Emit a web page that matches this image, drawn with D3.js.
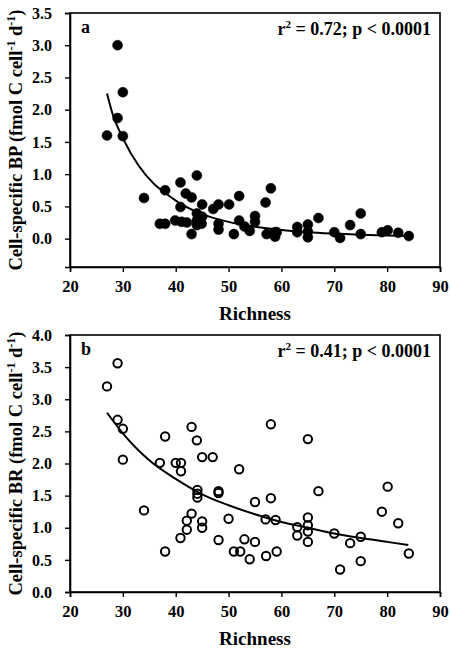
<!DOCTYPE html>
<html>
<head>
<meta charset="utf-8">
<script src="https://cdn.jsdelivr.net/npm/d3@7"></script>
<style>
  body { margin: 0; background: #fff; }
  svg { display: block; }
  text { font-family: "Liberation Serif", "Times New Roman", serif; font-weight: bold; fill: #000; }
</style>
</head>
<body>
<svg id="chart" width="450" height="648"></svg>
<script>
// ---- Data ----
const xTicks = [20, 30, 40, 50, 60, 70, 80, 90];
const bpTicks = [0.0, 0.5, 1.0, 1.5, 2.0, 2.5, 3.0, 3.5];
const brTicks = [0.0, 0.5, 1.0, 1.5, 2.0, 2.5, 3.0, 3.5, 4.0];

// Panel a: richness vs cell-specific BP (filled circles)
const richnessBP = [29, 30, 29, 27, 30, 34, 38, 37, 38, 39.9, 40.9, 41.9, 43, 40.9, 41.1, 42.1, 44, 43, 44, 44, 44.9, 44,
  45, 45, 47.1, 48.1, 48.1, 48.1, 50.1, 51, 52, 52, 53, 54, 55, 55, 57, 58, 57.2, 58.8, 58.8, 59.1,
  63, 63, 65, 65, 65, 67, 70, 71.1, 73, 75, 75, 79, 80.1, 82.1, 84.1];
const bp = [3.0, 2.27, 1.87, 1.60, 1.59, 0.63, 0.75, 0.23, 0.23, 0.28, 0.87, 0.70, 0.64, 0.49, 0.26, 0.25, 0.98, 0.07, 0.39, 0.28, 0.23, 0.21,
  0.53, 0.34, 0.46, 0.53, 0.23, 0.14, 0.53, 0.07, 0.66, 0.28, 0.19, 0.12, 0.35, 0.26, 0.56, 0.78, 0.07, 0.10, 0.03, 0.10,
  0.18, 0.10, 0.22, 0.11, 0.02, 0.32, 0.10, 0.01, 0.21, 0.39, 0.07, 0.10, 0.13, 0.09, 0.04];

// Panel b: richness vs cell-specific BR (open circles)
const richnessBR = [29, 27, 29, 30, 38, 43, 44, 58, 65, 30, 37, 40, 41, 45, 47, 52, 41, 34, 38, 40.9, 42.1, 42.1, 43,
  44.1, 44.1, 44.1, 45, 45, 48.1, 48.1, 48.1, 50, 51, 52.2, 53, 54, 55, 55, 57, 58, 57.1, 58.9, 59.1,
  63, 63, 65, 65, 65, 65, 67, 70, 71.1, 73, 75, 75, 79, 80.1, 82.1, 84.1];
const br = [3.56, 3.20, 2.68, 2.54, 2.42, 2.57, 2.36, 2.61, 2.38, 2.06, 2.01, 2.01, 2.01, 2.10, 2.10, 1.91, 1.88, 1.27, 0.63, 0.84, 0.97, 1.11, 1.22,
  1.59, 1.53, 1.47, 1.10, 1.00, 1.57, 1.54, 0.81, 1.14, 0.63, 0.63, 0.82, 0.51, 1.40, 0.78, 1.13, 1.46, 0.56, 1.12, 0.63,
  1.01, 0.88, 1.16, 1.04, 0.94, 0.78, 1.57, 0.91, 0.35, 0.76, 0.86, 0.48, 1.25, 1.64, 1.07, 0.60];

// Fitted curves
const fitXBP = [27, 28, 30, 33, 36, 38, 40, 45, 50, 55, 60, 65, 70, 75, 80, 84];
const fitBP  = [2.25, 1.95, 1.56, 1.13, 0.84, 0.71, 0.59, 0.38, 0.26, 0.185, 0.135, 0.10, 0.078, 0.061, 0.048, 0.04];
const fitXBR = [27, 30, 35, 40, 45, 50, 55, 60, 65, 70, 75, 80, 84];
const fitBR  = [2.79, 2.47, 2.05, 1.76, 1.52, 1.35, 1.21, 1.09, 1.00, 0.91, 0.84, 0.78, 0.73];

const svg = d3.select("#chart");

function panel(opts) {
  const x = d3.scaleLinear().domain([20, 90]).range([70, 440]);
  const y = d3.scaleLinear().domain(opts.yDomain).range([opts.bottom, opts.top]);
  const g = svg.append("g");

  // frame
  g.append("rect").attr("x", 70).attr("y", opts.top).attr("width", 370).attr("height", opts.bottom - opts.top)
    .attr("fill", "none").attr("stroke", "#000").attr("stroke-width", 1.6);

  const xAxis = g.append("g").attr("transform", `translate(0,${opts.bottom})`)
    .call(d3.axisBottom(x).tickValues(xTicks).tickSize(5).tickPadding(8).tickFormat(d3.format("d")));
  xAxis.select(".domain").attr("stroke-width", 1.6);
  xAxis.selectAll(".tick line").attr("stroke-width", 1.4);
  xAxis.selectAll("text").attr("font-size", 16.5).attr("font-family", "Liberation Serif").attr("font-weight", "bold");

  const yAxis = g.append("g").attr("transform", "translate(70,0)")
    .call(d3.axisLeft(y).tickValues(opts.yTicks).tickSize(5).tickPadding(13).tickFormat(d3.format(".1f")));
  yAxis.select(".domain").attr("stroke-width", 1.6);
  yAxis.selectAll(".tick line").attr("stroke-width", 1.4);
  yAxis.selectAll("text").attr("font-size", 16).attr("font-family", "Liberation Serif").attr("font-weight", "bold");

  // fit curve
  const line = d3.line().x((d, i) => x(opts.fitX[i])).y(d => y(d)).curve(d3.curveMonotoneX);
  g.append("path").datum(opts.fitY).attr("d", line).attr("fill", "none").attr("stroke", "#000").attr("stroke-width", 2);

  // points
  g.selectAll("circle.pt").data(opts.yv).join("circle").attr("class", "pt")
    .attr("cx", (d, i) => x(opts.xv[i])).attr("cy", d => y(d))
    .attr("r", opts.filled ? 5 : 4.2)
    .attr("fill", opts.filled ? "#000" : "#fff")
    .attr("fill-opacity", opts.filled ? 1 : 0)
    .attr("stroke", "#000").attr("stroke-width", opts.filled ? 0.5 : 2);

  // panel letter
  g.append("text").attr("x", 81).attr("y", opts.top + 20).attr("font-size", 18).text(opts.letter);

  // stats
  const st = g.append("text").attr("x", 431).attr("y", opts.top + 22).attr("text-anchor", "end").attr("font-size", 18);
  st.append("tspan").text("r");
  st.append("tspan").attr("font-size", 11).attr("dy", -7).text("2");
  st.append("tspan").attr("dy", 7).text(" = " + opts.r2 + "; p < 0.0001");

  // x title
  g.append("text").attr("x", 255).attr("y", opts.bottom + 53).attr("text-anchor", "middle").attr("font-size", 19).text("Richness");

  // y title
  const cy = (opts.top + opts.bottom) / 2;
  const yt = g.append("text").attr("transform", `translate(22,${cy}) rotate(-90)`).attr("text-anchor", "middle").attr("font-size", 18.5);
  yt.append("tspan").text("Cell-specific " + opts.yName + " (fmol C cell");
  yt.append("tspan").attr("font-size", 12).attr("dy", -7).text("-1");
  yt.append("tspan").attr("dy", 7).text(" d");
  yt.append("tspan").attr("font-size", 12).attr("dy", -7).text("-1");
  yt.append("tspan").attr("dy", 7).text(")");
}

panel({ top: 13, bottom: 267, yDomain: [-0.44, 3.5], yTicks: bpTicks, xv: richnessBP, yv: bp,
  fitX: fitXBP, fitY: fitBP, filled: true, letter: "a", r2: "0.72", yName: "BP" });
panel({ top: 335, bottom: 592, yDomain: [0, 4], yTicks: brTicks, xv: richnessBR, yv: br,
  fitX: fitXBR, fitY: fitBR, filled: false, letter: "b", r2: "0.41", yName: "BR" });
</script>
</body>
</html>
